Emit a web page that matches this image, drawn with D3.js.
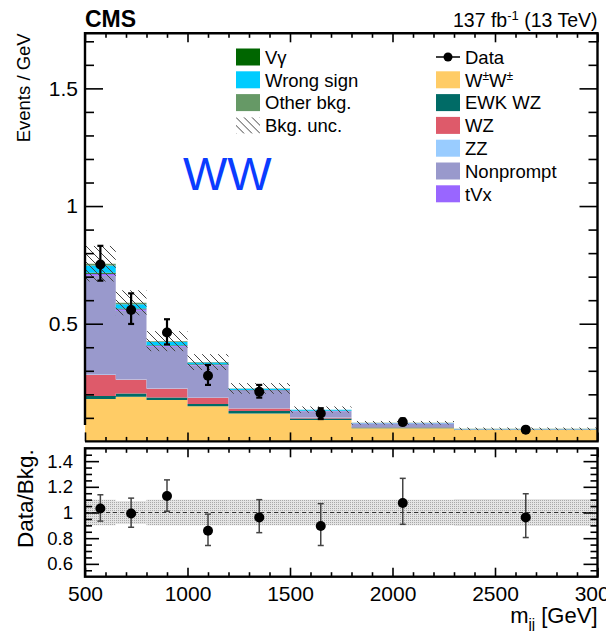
<!DOCTYPE html>
<html>
<head>
<meta charset="utf-8">
<script src="https://cdn.jsdelivr.net/npm/d3@7"></script>
<style>
    body { margin: 0; background: #fff; }
    svg { display: block; font-family: 'Liberation Sans', Arial, Helvetica, sans-serif; }
</style>
</head>
<body>
<svg id="chart"></svg>
<script>
// bins in m_jj (GeV)
const binEdges = [500, 650, 800, 1000, 1200, 1500, 1800, 2300, 3000];

// background yields (events / GeV), bottom of the stack first
const wpmwpm    = [0.180, 0.190, 0.176, 0.149, 0.119, 0.091, 0.056, 0.048];
const ewkWZ     = [0.013, 0.014, 0.011, 0.010, 0.010, 0.006, 0.003, 0.002];
const wz        = [0.089, 0.059, 0.038, 0.027, 0.011, 0.004, 0.001, 0.0005];
const zz        = [0.002, 0.002, 0.002, 0.001, 0.001, 0.001, 0.0005, 0.0002];
const nonprompt = [0.420, 0.290, 0.175, 0.136, 0.074, 0.026, 0.016, 0.001];
const tvx       = [0.008, 0.006, 0.004, 0.003, 0.002, 0.001, 0.0005, 0.0002];
const vgamma    = [0.005, 0.004, 0.003, 0.002, 0.001, 0.001, 0.0005, 0.0002];
const wrongSign = [0.030, 0.018, 0.013, 0.007, 0.006, 0.004, 0.001, 0.001];
const otherBkg  = [0.008, 0.006, 0.004, 0.002, 0.001, 0.001, 0.0005, 0.0003];

const processNames = ['W±W±', 'EWK WZ', 'WZ', 'ZZ', 'Nonprompt', 'tVx', 'Vγ', 'Wrong sign', 'Other bkg.'];
const processYields = [wpmwpm, ewkWZ, wz, zz, nonprompt, tvx, vgamma, wrongSign, otherBkg];

// relative background uncertainty per bin
const bkgUnc = [0.10, 0.09, 0.10, 0.10, 0.10, 0.10, 0.10, 0.105];

// data
const dataValues = [0.752, 0.558, 0.463, 0.279, 0.211, 0.119, 0.082, 0.050];
const dataHigh   = [0.831, 0.629, 0.519, 0.325, 0.240, 0.141, 0.097, 0.060];
const dataLow    = [0.683, 0.499, 0.412, 0.240, 0.186, 0.095, 0.070, 0.042];

// data / bkg
const ratioValues = [1.031, 0.992, 1.128, 0.858, 0.962, 0.895, 1.074, 0.962];
const ratioHigh   = [1.138, 1.112, 1.254, 0.987, 1.100, 1.069, 1.266, 1.146];
const ratioLow    = [0.933, 0.885, 1.010, 0.743, 0.843, 0.743, 0.908, 0.805];

const xTicks = [500, 1000, 1500, 2000, 2500, 3000];
const yTicksMain = [0.5, 1, 1.5];
const yTicksRatio = [0.6, 0.8, 1, 1.2, 1.4];

const colors = d3.scaleOrdinal()
    .domain(processNames)
    .range(['#ffcc66', '#006b66', '#de5a6a', '#99ccff', '#9999cc', '#9966ff', '#006600', '#00ccff', '#669966']);

const outerWidth = 606;
const outerHeight = 631;
const left = 85, right = 597.5;
const main = { top: 33.3, bottom: 441.4 };
const ratio = { top: 448.3, bottom: 576.7 };

const xScale = d3.scaleLinear().domain([500, 3000]).range([left, right]);
const yMain = d3.scaleLinear().domain([0, 1.734]).range([main.bottom, main.top]);
const yRatio = d3.scaleLinear().domain([0.5, 1.5]).range([ratio.bottom, ratio.top]);

const svg = d3.select('#chart')
    .attr('width', outerWidth)
    .attr('height', outerHeight);

const defs = svg.append('defs');
defs.append('pattern')
    .attr('id', 'hatch')
    .attr('patternUnits', 'userSpaceOnUse')
    .attr('width', 8)
    .attr('height', 8)
  .append('path')
    .attr('d', 'M0,0 L8,8 M-2,6 L2,10 M6,-2 L10,2')
    .attr('stroke', '#444')
    .attr('stroke-width', 1);

const dots = defs.append('pattern')
    .attr('id', 'dots')
    .attr('patternUnits', 'userSpaceOnUse')
    .attr('width', 2)
    .attr('height', 2);
dots.append('rect').attr('width', 2).attr('height', 2).attr('fill', '#e4e4e4');
dots.append('rect').attr('width', 1).attr('height', 1).attr('fill', '#a8a8a8');

defs.append('clipPath').attr('id', 'clipMain')
  .append('rect')
    .attr('x', left).attr('y', main.top)
    .attr('width', right - left).attr('height', main.bottom - main.top);

// table for the stack
const bins = d3.range(binEdges.length - 1).map(i => {
    const row = { lo: binEdges[i], hi: binEdges[i + 1] };
    processNames.forEach((p, j) => { row[p] = processYields[j][i]; });
    return row;
});
const totals = bins.map(b => d3.sum(processNames, p => b[p]));
const centers = bins.map(b => (b.lo + b.hi) / 2);

const stack = d3.stack().keys(processNames)(bins);

const plot = svg.append('g').attr('clip-path', 'url(#clipMain)');

// each layer as one step path so neighbouring bins have no seams
const stepArea = d3.area()
    .curve(d3.curveStepAfter)
    .x(d => xScale(d.x))
    .y0(d => yMain(d.y0))
    .y1(d => yMain(d.y1));

plot.selectAll('.layer')
    .data(stack)
    .join('path')
        .classed('layer', true)
        .attr('fill', d => colors(d.key))
        .attr('d', layer => {
            const pts = layer.map(d => ({ x: d.data.lo, y0: d[0], y1: d[1] }));
            const last = layer[layer.length - 1];
            pts.push({ x: last.data.hi, y0: last[0], y1: last[1] });
            return stepArea(pts);
        });

plot.selectAll('.unc')
    .data(bins)
    .join('rect')
        .classed('unc', true)
        .attr('x', d => xScale(d.lo))
        .attr('width', d => xScale(d.hi) - xScale(d.lo))
        .attr('y', (d, i) => yMain(totals[i] * (1 + bkgUnc[i])))
        .attr('height', (d, i) => yMain(totals[i] * (1 - bkgUnc[i])) - yMain(totals[i] * (1 + bkgUnc[i])))
        .attr('fill', 'url(#hatch)');

// data points with error bars
function drawPoints(g, yScale, vals, hi, lo, color, lw, r) {
    const pts = g.selectAll('.pt')
        .data(vals)
        .join('g')
            .classed('pt', true)
            .attr('stroke', color)
            .attr('stroke-width', lw);
    pts.append('line')
        .attr('x1', (d, i) => xScale(centers[i])).attr('x2', (d, i) => xScale(centers[i]))
        .attr('y1', (d, i) => yScale(hi[i])).attr('y2', (d, i) => yScale(lo[i]));
    pts.append('line')
        .attr('x1', (d, i) => xScale(centers[i]) - 3).attr('x2', (d, i) => xScale(centers[i]) + 3)
        .attr('y1', (d, i) => yScale(hi[i])).attr('y2', (d, i) => yScale(hi[i]));
    pts.append('line')
        .attr('x1', (d, i) => xScale(centers[i]) - 3).attr('x2', (d, i) => xScale(centers[i]) + 3)
        .attr('y1', (d, i) => yScale(lo[i])).attr('y2', (d, i) => yScale(lo[i]));
    pts.append('circle')
        .attr('cx', (d, i) => xScale(centers[i]))
        .attr('cy', d => yScale(d))
        .attr('r', r)
        .attr('fill', '#000')
        .attr('stroke', 'none');
}

drawPoints(svg.append('g'), yMain, dataValues, dataHigh, dataLow, '#000', 2.2, 5);

// ratio panel
const ratioG = svg.append('g');
ratioG.selectAll('.band')
    .data(bins)
    .join('rect')
        .classed('band', true)
        .attr('x', d => xScale(d.lo))
        .attr('width', d => xScale(d.hi) - xScale(d.lo))
        .attr('y', (d, i) => yRatio(1 + bkgUnc[i]))
        .attr('height', (d, i) => yRatio(1 - bkgUnc[i]) - yRatio(1 + bkgUnc[i]))
        .attr('fill', 'url(#dots)');

ratioG.append('line')
    .attr('x1', left).attr('x2', right)
    .attr('y1', yRatio(1)).attr('y2', yRatio(1))
    .attr('stroke', '#333')
    .attr('stroke-width', 1)
    .attr('stroke-dasharray', '4,3');

drawPoints(ratioG.append('g'), yRatio, ratioValues, ratioHigh, ratioLow, '#444', 1.5, 5);

// axes
function styleAxis(g, fontSize) {
    g.select('.domain').remove();
    g.selectAll('.tick line').attr('stroke', '#000').attr('stroke-width', 1.6);
    g.selectAll('text')
        .attr('font-family', "'Liberation Sans', Arial, sans-serif")
        .attr('font-size', fontSize)
        .attr('fill', '#000');
}

const minorMainY = d3.range(1, 18).map(i => i / 10).filter(v => !yTicksMain.includes(v));
const minorRatioY = d3.range(11, 30).map(i => i / 20).filter(v => !yTicksRatio.some(t => Math.abs(t - v) < 1e-6));
const minorX = d3.range(5, 31).map(i => i * 100).filter(v => !xTicks.includes(v));

function xAxes(yTop, yBottom, labels) {
    svg.append('g').attr('transform', `translate(0,${yTop})`)
        .call(d3.axisTop(xScale).tickValues(xTicks).tickSize(-9).tickFormat(''))
        .call(g => styleAxis(g, 0));
    svg.append('g').attr('transform', `translate(0,${yTop})`)
        .call(d3.axisTop(xScale).tickValues(minorX).tickSize(-4.5).tickFormat(''))
        .call(g => styleAxis(g, 0));
    svg.append('g').attr('transform', `translate(0,${yBottom})`)
        .call(d3.axisBottom(xScale).tickValues(xTicks).tickSize(-9).tickPadding(9).tickFormat(labels ? d => d : ''))
        .call(g => styleAxis(g, 21));
    svg.append('g').attr('transform', `translate(0,${yBottom})`)
        .call(d3.axisBottom(xScale).tickValues(minorX).tickSize(-4.5).tickFormat(''))
        .call(g => styleAxis(g, 0));
}

function yAxes(yScale, major, minor, majorLen, pad, fontSize) {
    svg.append('g').attr('transform', `translate(${left},0)`)
        .call(d3.axisLeft(yScale).tickValues(major).tickSize(-majorLen).tickPadding(pad).tickFormat(d => d))
        .call(g => styleAxis(g, fontSize));
    svg.append('g').attr('transform', `translate(${left},0)`)
        .call(d3.axisLeft(yScale).tickValues(minor).tickSize(-majorLen / 2).tickFormat(''))
        .call(g => styleAxis(g, 0));
    svg.append('g').attr('transform', `translate(${right},0)`)
        .call(d3.axisRight(yScale).tickValues(major).tickSize(-majorLen).tickFormat(''))
        .call(g => styleAxis(g, 0));
    svg.append('g').attr('transform', `translate(${right},0)`)
        .call(d3.axisRight(yScale).tickValues(minor).tickSize(-majorLen / 2).tickFormat(''))
        .call(g => styleAxis(g, 0));
}

xAxes(main.top, main.bottom, false);
yAxes(yMain, yTicksMain, minorMainY, 18, 7, 21);
xAxes(ratio.top, ratio.bottom, true);
yAxes(yRatio, yTicksRatio, minorRatioY, 14, 12, 18.5);

// frames (left line of the upper pad stops short of the bottom)
svg.append('path')
    .attr('d', `M${left},${yMain(0.07)} V${main.top} H${right} V${main.bottom} H${left}`)
    .attr('fill', 'none').attr('stroke', '#000').attr('stroke-width', 2.4);
svg.append('rect')
    .attr('x', left).attr('y', ratio.top)
    .attr('width', right - left).attr('height', ratio.bottom - ratio.top)
    .attr('fill', 'none').attr('stroke', '#000').attr('stroke-width', 2.4);

// titles
svg.append('text')
    .attr('x', left).attr('y', 26.5)
    .attr('font-size', 23).attr('font-weight', 'bold')
    .text('CMS');

const lumi = svg.append('text')
    .attr('x', right).attr('y', 26.5)
    .attr('text-anchor', 'end')
    .attr('font-size', 19.5);
lumi.append('tspan').text('137 fb');
lumi.append('tspan').attr('font-size', 13).attr('dy', -7).text('-1');
lumi.append('tspan').attr('dy', 7).text(' (13 TeV)');

svg.append('text')
    .attr('transform', `translate(30,${main.top}) rotate(-90)`)
    .attr('text-anchor', 'end')
    .attr('font-size', 18.5)
    .text('Events / GeV');

svg.append('text')
    .attr('transform', `translate(33,${ratio.top + 1}) rotate(-90)`)
    .attr('text-anchor', 'end')
    .attr('font-size', 22.5)
    .text('Data/Bkg.');

const xLabel = svg.append('text')
    .attr('x', right).attr('y', 623)
    .attr('text-anchor', 'end')
    .attr('font-size', 22);
xLabel.append('tspan').text('m');
xLabel.append('tspan').attr('font-size', 15).attr('dy', 6).text('jj');
xLabel.append('tspan').attr('dy', -6).text(' [GeV]');

svg.append('text')
    .attr('x', 183).attr('y', 190)
    .attr('font-size', 47)
    .attr('fill', '#0a3cff')
    .text('WW');

// legend
const legendLeft = ['Vγ', 'Wrong sign', 'Other bkg.', 'Bkg. unc.'];
const legendRight = ['Data', 'W±W±', 'EWK WZ', 'WZ', 'ZZ', 'Nonprompt', 'tVx'];
const rowStep = 22.8, rowTop = 57;

function legendColumn(items, x0) {
    const rows = svg.append('g').selectAll('g')
        .data(items)
        .join('g')
            .attr('transform', (d, i) => `translate(${x0},${rowTop + i * rowStep})`);
    rows.each(function(d) {
        const g = d3.select(this);
        if (d === 'Data') {
            g.append('line').attr('x1', 0).attr('x2', 24).attr('stroke', '#000').attr('stroke-width', 1.5);
            g.append('circle').attr('cx', 12).attr('r', 4.5);
        } else if (d === 'Bkg. unc.') {
            g.append('rect').attr('y', -8).attr('width', 24).attr('height', 16).attr('fill', 'url(#hatch)');
        } else {
            g.append('rect').attr('y', -8.5).attr('width', 24).attr('height', 17).attr('fill', colors(d));
        }
        const t = g.append('text').attr('x', 29).attr('y', 6.7).attr('font-size', 18.5);
        if (d === 'W±W±') {
            t.append('tspan').text('W');
            t.append('tspan').attr('font-size', 12).attr('dy', -7).text('±');
            t.append('tspan').attr('dy', 7).text('W');
            t.append('tspan').attr('font-size', 12).attr('dy', -7).text('±');
        } else {
            t.text(d);
        }
    });
}

legendColumn(legendLeft, 236);
legendColumn(legendRight, 436);
</script>
</body>
</html>
